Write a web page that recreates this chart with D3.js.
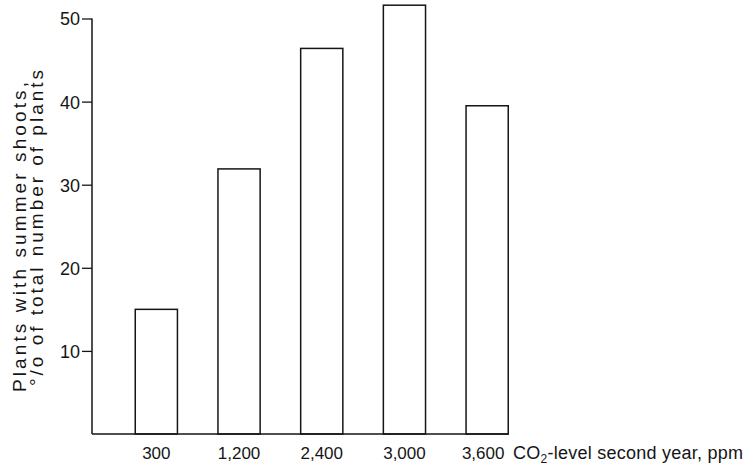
<!DOCTYPE html>
<html><head><meta charset="utf-8">
<script src="https://cdn.jsdelivr.net/npm/d3@7"></script>
<style>body{margin:0;background:#fff}svg{display:block}</style>
</head><body><svg id="c" width="749" height="465"></svg>
<script>
const categories = ["300", "1,200", "2,400", "3,000", "3,600"];
const values = [15.0, 31.9, 46.4, 51.6, 39.5];
const yTicks = [10, 20, 30, 40, 50];
const yTitleLines = ["Plants with summer shoots,", "°/o of total number of plants"];
const xTitleParts = ["CO", "2", "-level second year, ppm"];

const svg = d3.select("#c");
const ink = "#151515";
const font = "'Liberation Sans', Arial, sans-serif";

const x = d3.scaleBand().domain(categories).range([115, 528.5]).paddingInner(0.49).paddingOuter(0.245);
const y = d3.scaleLinear().domain([0, 50]).range([434, 18.5]);

// bars
svg.append("g").selectAll("rect").data(values).join("rect")
  .attr("x", (d, i) => x(categories[i]))
  .attr("y", d => y(d))
  .attr("width", x.bandwidth())
  .attr("height", d => y(0) - y(d))
  .attr("fill", "#fff").attr("stroke", ink).attr("stroke-width", 1.5);

// y axis
const yAxis = svg.append("g").attr("transform", "translate(92,0)")
  .call(d3.axisLeft(y).tickValues(yTicks).tickSize(10).tickPadding(2).tickFormat(d3.format("d")));
yAxis.select(".domain").remove();
yAxis.append("line").attr("x1", 0).attr("x2", 0).attr("y1", y(50)).attr("y2", y(0))
  .attr("stroke", ink).attr("stroke-width", 1.5);
yAxis.selectAll(".tick line").attr("stroke", ink).attr("stroke-width", 1.3);
yAxis.selectAll(".tick text").attr("fill", ink).style("font-family", font).style("font-size", "18px")
  .attr("dy", "0.36em");

// x axis
const xAxis = svg.append("g").attr("transform", `translate(0,${y(0)})`)
  .call(d3.axisBottom(x).tickSize(0).tickPadding(13));
xAxis.select(".domain").remove();
const lastRight = x(categories[categories.length - 1]) + x.bandwidth();
xAxis.append("line").attr("x1", 92).attr("x2", lastRight).attr("y1", 0).attr("y2", 0)
  .attr("stroke", ink).attr("stroke-width", 1.5);
xAxis.selectAll(".tick text").attr("fill", ink).style("font-family", font).style("font-size", "17px")
  .attr("dy", "0.71em")
  .attr("dx", (d, i) => i === categories.length - 1 ? -4 : 0);

// x title
const xt = svg.append("text").attr("x", 513).attr("y", 459).attr("fill", ink)
  .style("font-family", font).style("font-size", "18px").style("letter-spacing", "0.25px");
xt.append("tspan").text(xTitleParts[0]);
xt.append("tspan").attr("dy", 4).style("font-size", "12px").text(xTitleParts[1]);
xt.append("tspan").attr("dy", -4).text(xTitleParts[2]);

// y title (rotated, two lines)
const yTitleX = [26, 43];
const yTitleStart = [392, 386];
const yTitleLen = [310, 316];
yTitleLines.forEach((t, i) => {
  svg.append("text")
    .attr("transform", `translate(${yTitleX[i]},${yTitleStart[i]}) rotate(-90)`)
    .attr("fill", ink).style("font-family", font).style("font-size", "19px")
    .attr("textLength", yTitleLen[i]).attr("lengthAdjust", "spacing")
    .text(t);
});
</script></body></html>
